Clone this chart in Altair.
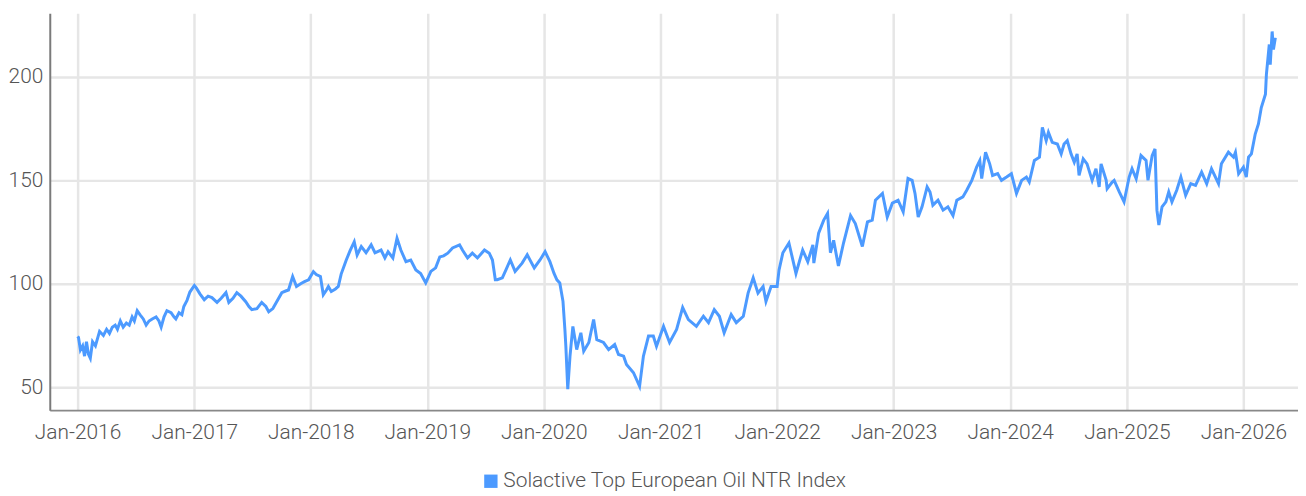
import altair as alt
import pandas as pd

SERIES = "Solactive Top European Oil NTR Index"
LINE_COLOR = "#4c9aff"

dates = [
    "2016-01-01", "2016-01-04", "2016-01-10", "2016-01-17", "2016-01-23", "2016-01-29",
    "2016-02-04", "2016-02-10", "2016-02-17", "2016-02-26", "2016-03-10", "2016-03-22",
    "2016-04-01", "2016-04-10", "2016-04-19", "2016-04-28", "2016-05-05", "2016-05-14",
    "2016-05-23", "2016-06-02", "2016-06-11", "2016-06-20", "2016-06-27", "2016-07-06",
    "2016-07-15", "2016-07-25", "2016-08-03", "2016-08-12", "2016-08-22", "2016-09-03",
    "2016-09-12", "2016-09-19", "2016-09-28", "2016-10-07", "2016-10-20", "2016-10-29",
    "2016-11-04", "2016-11-14", "2016-11-23", "2016-11-29", "2016-12-09", "2016-12-18",
    "2017-01-01", "2017-01-07", "2017-01-19", "2017-02-01", "2017-02-13", "2017-02-25",
    "2017-03-13", "2017-03-26", "2017-04-10", "2017-04-19", "2017-05-02", "2017-05-14",
    "2017-05-27", "2017-06-11", "2017-06-21", "2017-06-30", "2017-07-16", "2017-07-31",
    "2017-08-13", "2017-08-22", "2017-09-04", "2017-09-16", "2017-10-02", "2017-10-14",
    "2017-10-23", "2017-11-05", "2017-11-17", "2017-11-30", "2017-12-12", "2017-12-25",
    "2018-01-09", "2018-01-18", "2018-01-31", "2018-02-09", "2018-02-19", "2018-02-25",
    "2018-03-06", "2018-03-19", "2018-03-28", "2018-04-06", "2018-04-22", "2018-05-04",
    "2018-05-17", "2018-05-26", "2018-06-08", "2018-06-23", "2018-07-09", "2018-07-21",
    "2018-08-09", "2018-08-21", "2018-08-31", "2018-09-15", "2018-09-28", "2018-10-10",
    "2018-10-26", "2018-11-10", "2018-11-26", "2018-12-11", "2018-12-27",
    "2019-01-12", "2019-01-27", "2019-02-09", "2019-02-21", "2019-03-06", "2019-03-21",
    "2019-04-12", "2019-04-21", "2019-05-07", "2019-05-22", "2019-06-07", "2019-06-29",
    "2019-07-14", "2019-07-24", "2019-08-02", "2019-08-08", "2019-08-24", "2019-09-05",
    "2019-09-18", "2019-10-03", "2019-10-25", "2019-11-10", "2019-12-02", "2019-12-20",
    "2020-01-05", "2020-01-20", "2020-02-02", "2020-02-11", "2020-02-20", "2020-03-01",
    "2020-03-07", "2020-03-10", "2020-03-16", "2020-03-23", "2020-04-01", "2020-04-13",
    "2020-04-26", "2020-05-05", "2020-05-21", "2020-06-05", "2020-06-15", "2020-07-06",
    "2020-07-22", "2020-08-10", "2020-08-22", "2020-09-07", "2020-09-16", "2020-10-08",
    "2020-10-27", "2020-11-08", "2020-11-24", "2020-12-09", "2020-12-19",
    "2021-01-10", "2021-01-29", "2021-02-20", "2021-03-11", "2021-03-29", "2021-04-23",
    "2021-05-15", "2021-05-31", "2021-06-18", "2021-07-04", "2021-07-19", "2021-08-10",
    "2021-08-26", "2021-09-17", "2021-10-02", "2021-10-18", "2021-11-02", "2021-11-18",
    "2021-11-27", "2021-12-13",
    "2022-01-01", "2022-01-07", "2022-01-19", "2022-02-07", "2022-03-01", "2022-03-22",
    "2022-04-07", "2022-04-23", "2022-04-26", "2022-05-11", "2022-05-27", "2022-06-08",
    "2022-06-17", "2022-06-27", "2022-07-12", "2022-07-28", "2022-08-19", "2022-09-03",
    "2022-09-25", "2022-10-11", "2022-10-26", "2022-11-05", "2022-11-27", "2022-12-12",
    "2022-12-28",
    "2023-01-15", "2023-01-31", "2023-02-15", "2023-02-28", "2023-03-09", "2023-03-19",
    "2023-03-31", "2023-04-16", "2023-04-25", "2023-05-04", "2023-05-20", "2023-06-05",
    "2023-06-20", "2023-07-06", "2023-07-18", "2023-08-06", "2023-08-18", "2023-09-03",
    "2023-09-18", "2023-09-28", "2023-10-04", "2023-10-16", "2023-10-29", "2023-11-07",
    "2023-11-23", "2023-12-05", "2023-12-21",
    "2024-01-05", "2024-01-21", "2024-02-06", "2024-02-21", "2024-03-01", "2024-03-17",
    "2024-04-02", "2024-04-11", "2024-04-23", "2024-04-30", "2024-05-12", "2024-05-28",
    "2024-06-09", "2024-06-18", "2024-06-28", "2024-07-10", "2024-07-20", "2024-07-29",
    "2024-08-04", "2024-08-17", "2024-08-29", "2024-09-14", "2024-09-26", "2024-10-06",
    "2024-10-12", "2024-10-28", "2024-10-31", "2024-11-16", "2024-11-22", "2024-12-08",
    "2024-12-23",
    "2025-01-08", "2025-01-17", "2025-01-30", "2025-02-14", "2025-03-02", "2025-03-08",
    "2025-03-21", "2025-03-30", "2025-04-05", "2025-04-11", "2025-04-21", "2025-05-03",
    "2025-05-12", "2025-05-22", "2025-06-06", "2025-06-19", "2025-07-04", "2025-07-20",
    "2025-08-04", "2025-08-23", "2025-09-08", "2025-09-23", "2025-10-15", "2025-10-24",
    "2025-11-15", "2025-12-01", "2025-12-07", "2025-12-17",
    "2026-01-01", "2026-01-10", "2026-01-17", "2026-01-26", "2026-02-07", "2026-02-17",
    "2026-02-26", "2026-03-11", "2026-03-14", "2026-03-23", "2026-03-26", "2026-04-01",
    "2026-04-05", "2026-04-11",
]

values = [
    74.5, 74.0, 68.0, 70.0, 65.0, 72.0,
    66.0, 64.0, 72.0, 70.0, 77.0, 75.0,
    78.0, 76.0, 79.0, 80.0, 78.0, 82.0,
    79.0, 81.0, 80.0, 84.0, 82.0, 87.0,
    85.0, 83.0, 80.0, 82.0, 83.0, 84.0,
    82.0, 79.0, 84.0, 87.0, 86.0, 84.0,
    83.0, 86.0, 85.0, 89.0, 92.0, 96.0,
    99.2, 98.0, 95.0, 92.3, 94.0, 93.3,
    91.0, 93.0, 95.7, 91.0, 93.0, 95.7,
    94.0, 91.3, 89.0, 87.5, 88.0, 91.0,
    89.0, 86.5, 88.0, 91.3, 95.7, 96.5,
    97.0, 103.5, 98.7, 100.0, 101.0, 101.9,
    105.9, 104.5, 103.5, 94.7, 97.0, 98.7,
    96.3, 97.5, 98.7, 104.7, 111.5, 116.0,
    120.3, 113.9, 118.0, 115.0, 118.8, 115.0,
    116.3, 112.5, 115.5, 112.5, 122.0, 116.3,
    110.7, 111.5, 106.7, 105.0, 100.4,
    106.0, 107.7, 113.0, 113.5, 114.8, 117.3,
    118.8, 116.3, 112.5, 114.8, 112.5, 116.3,
    114.8, 111.5, 102.0, 102.0, 102.9, 107.0,
    111.5, 106.0, 110.0, 114.0, 107.7, 111.5,
    115.5, 110.7, 105.0, 101.9, 100.4, 91.5,
    77.9, 69.8, 49.0, 65.0, 79.4, 68.2,
    76.3, 67.4, 71.6, 82.7, 73.0, 71.6,
    68.2, 70.6, 65.8, 65.0, 61.0, 57.0,
    50.4, 65.0, 74.7, 74.7, 69.8,
    79.4, 71.6, 77.9, 88.5, 82.7, 79.4,
    84.3, 81.2, 87.5, 84.3, 76.3, 85.1,
    81.2, 84.3, 95.5, 102.9, 95.5, 98.7,
    91.5, 98.7,
    98.7, 106.7, 115.0, 119.7, 105.0, 116.3,
    110.7, 118.8, 110.0, 124.5, 130.8, 134.0,
    115.0, 121.0, 108.6, 119.7, 133.0, 129.1,
    118.0, 129.9, 130.8, 140.4, 143.7, 132.3,
    139.0,
    140.4, 134.8, 150.9, 150.0, 143.7, 132.3,
    137.2, 146.8, 144.4, 138.0, 140.4, 135.6,
    137.2, 133.0, 140.4, 142.0, 145.2, 150.0,
    156.4, 159.6, 150.9, 163.6, 158.0, 152.4,
    153.3, 150.0, 151.6,
    153.2, 143.7, 150.0, 151.6, 149.2, 159.6,
    161.2, 175.6, 169.2, 173.2, 168.4, 167.6,
    162.8, 167.6, 169.2, 162.8, 158.8, 162.8,
    152.4, 160.4, 158.0, 150.0, 155.6, 146.8,
    158.0, 150.0, 146.0, 149.2, 150.0, 144.4,
    139.6,
    151.6, 155.6, 150.8, 162.0, 159.6, 150.0,
    162.0, 165.2, 135.6, 128.4, 137.2, 139.6,
    144.4, 139.6, 145.2, 151.6, 142.8, 148.4,
    147.6, 154.0, 148.4, 155.6, 148.4, 158.0,
    163.6, 161.2, 163.6, 153.2,
    156.4, 151.6, 161.2, 162.8, 172.4, 177.3,
    185.2, 191.7, 201.3, 215.7, 206.0, 222.0,
    213.3, 219.0,
]

tick_years = list(range(2016, 2027))
y_ticks = [50, 100, 150, 200]

df = pd.DataFrame({"date": dates, "value": values, "series": SERIES})

FONT = "Roboto"
FONT_WEIGHT = 300
FONT_SIZE = 21
TEXT_COLOR = "#555555"

x_axis = alt.Axis(
    values=[alt.DateTime(year=y, month=1, date=1, utc=True) for y in tick_years],
    format="%b-%Y",
    title=None,
    ticks=False,
    labelPadding=12,
    labelFont=FONT,
    labelFontWeight=FONT_WEIGHT,
    labelFontSize=FONT_SIZE,
    labelColor=TEXT_COLOR,
    grid=True,
    gridColor="#e6e6e6",
    gridWidth=2.5,
    domainColor="#888888",
    domainWidth=2,
    labelFlush=False,
)

y_axis = alt.Axis(
    values=y_ticks,
    title=None,
    ticks=False,
    labelPadding=7,
    labelFont=FONT,
    labelFontWeight=FONT_WEIGHT,
    labelFontSize=FONT_SIZE,
    labelColor=TEXT_COLOR,
    grid=True,
    gridColor="#e6e6e6",
    gridWidth=2.5,
    domainColor="#7a7a7a",
    domainWidth=2,
)

chart = (
    alt.Chart(df)
    .mark_line(strokeWidth=3, interpolate="linear")
    .encode(
        x=alt.X(
            "date:T",
            axis=x_axis,
            scale=alt.Scale(
                type="utc",
                domain=[
                    alt.DateTime(year=2015, month=10, date=6, utc=True),
                    alt.DateTime(year=2026, month=6, date=21, utc=True),
                ],
                nice=False,
            ),
        ),
        y=alt.Y(
            "value:Q",
            axis=y_axis,
            scale=alt.Scale(domain=[38.9, 230.8], zero=False, nice=False),
        ),
        color=alt.Color(
            "series:N",
            scale=alt.Scale(domain=[SERIES], range=[LINE_COLOR]),
            legend=alt.Legend(
                title=None,
                orient="none",
                legendX=433,
                legendY=460,
                symbolType="square",
                symbolSize=180,
                symbolFillColor=LINE_COLOR,
                symbolStrokeColor=LINE_COLOR,
                symbolStrokeWidth=0,
                labelFont=FONT,
                labelFontWeight=FONT_WEIGHT,
                labelFontSize=FONT_SIZE,
                labelColor=TEXT_COLOR,
                labelLimit=0,
                labelOffset=2,
            ),
        ),
    )
    .properties(
        width=1255,
        height=399,
        autosize=alt.AutoSizeParams(type="none"),
        padding={"left": 42, "top": 4, "right": 0, "bottom": 80},
    )
    .configure_view(stroke=None)
)

chart.save("out.html", embed_options={"renderer": "svg", "actions": False})
